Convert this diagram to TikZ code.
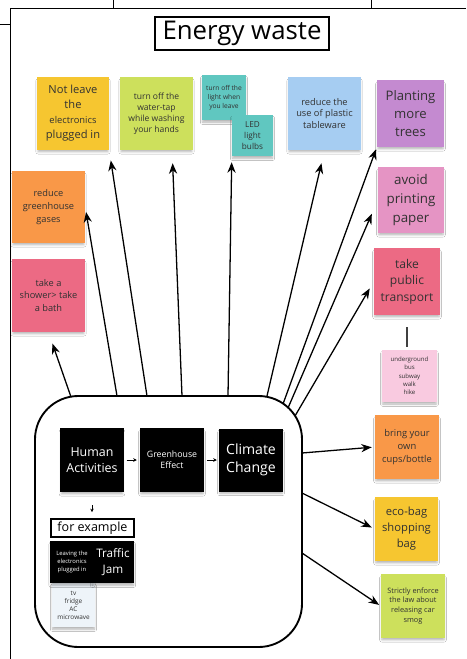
\documentclass[tikz,border=0pt]{standalone}
\usepackage{fontspec}
\setmainfont{Open Sans}
\usepackage{tikz}
\usepackage{xcolor}
\usetikzlibrary{arrows.meta,shadows.blur}
\definecolor{notetext}{RGB}{50, 50, 50}
\definecolor{noteyellow}{RGB}{246, 198, 48}
\definecolor{notelime}{RGB}{205, 224, 92}
\definecolor{noteteal}{RGB}{96, 199, 192}
\definecolor{noteblue}{RGB}{166, 205, 242}
\definecolor{notepurple}{RGB}{196, 138, 208}
\definecolor{noteorange}{RGB}{249, 152, 72}
\definecolor{notered}{RGB}{236, 106, 132}
\definecolor{notepink}{RGB}{229, 148, 196}
\definecolor{notelightpink}{RGB}{249, 202, 224}
\definecolor{notepale}{RGB}{238, 244, 249}
\newcommand{\notefont}[2]{\fontsize{#1}{#2}\selectfont}
\tikzstyle{arrow} = [
    line width=1.1pt,
    -{Stealth[length=9pt,width=7pt]},
    draw=black
]
\tikzstyle{link} = [
    line width=0.7pt,
    -{Stealth[length=3pt,width=3pt]},
    draw=black
]
\tikzstyle{sticky} = [
    rectangle,
    inner sep=1pt,
    align=center,
    text=notetext,
    blur shadow={shadow xshift=0pt, shadow yshift=-2.5pt, shadow scale=0.97,
        shadow blur radius=2pt, shadow opacity=30}
]
\tikzstyle{darknote} = [
    sticky,
    fill=black,
    text=white
]

\begin{document}
\begin{tikzpicture}[x=0.03cm, y=-0.03cm]
    \path[use as bounding box, fill=white] (0,0) rectangle (466,659);
    % page frame
    \draw[line width=0.8pt] (0,24) -- (10,24);
    \draw[line width=0.8pt] (10,659) -- (10,8) -- (466,8);
    \draw[line width=0.8pt] (113,0) -- (113,8);
    \draw[line width=0.8pt] (371,0) -- (371,8);

    \node[draw, line width=1.5pt, minimum width=5.22cm, minimum height=0.99cm,
        font=\notefont{22}{26}] (title) at (242,33.5) {Energy waste};

    % top row
    \node[sticky, fill=noteyellow, minimum width=2.16cm, minimum height=2.19cm,
        font=\notefont{9.5}{12.8}] (notleave) at (73,113.5)
        {Not leave\\the\\{\notefont{8}{12.8}electronics}\\plugged in};
    \node[sticky, fill=notelime, minimum size=2.19cm,
        font=\notefont{7.3}{9.4}] (watertap) at (156.5,113.5)
        {turn off the\\water-tap\\while washing\\your hands};
    \node[sticky, fill=noteteal, minimum width=1.32cm, minimum height=1.35cm,
        font=\notefont{5.7}{7.7}] (lightoff) at (224,97.5)
        {turn off the\\light when\\you leave};
    \node[sticky, fill=noteteal, minimum size=1.23cm,
        font=\notefont{7}{9.6}] (ledbulb) at (252.5,135.5)
        {LED\\light\\bulbs};
    \node[sticky, fill=noteblue, minimum size=2.19cm,
        font=\notefont{7.9}{10.2}] (plastic) at (324.5,113.5)
        {reduce the\\use of plastic\\tableware};
    \node[sticky, fill=notepurple, minimum size=2.01cm,
        font=\notefont{11.2}{15.4}] (trees) at (410.5,113.5)
        {Planting\\more\\trees};

    % left column
    \node[sticky, fill=noteorange, minimum width=2.19cm, minimum height=2.16cm,
        font=\notefont{7.9}{10.8}] (gases) at (48.5,207)
        {reduce\\greenhouse\\gases};
    \node[sticky, fill=notered, minimum size=2.19cm,
        font=\notefont{7.9}{10.8}] (shower) at (48.5,295.5)
        {take a\\shower> take\\a bath};

    % right column
    \node[sticky, fill=notepink, minimum size=1.98cm,
        font=\notefont{11.4}{16.2}] (printing) at (411,200)
        {avoid\\printing\\paper};
    \node[sticky, fill=notered, minimum width=1.98cm, minimum height=2.01cm,
        font=\notefont{10.3}{14.2}] (transport) at (407,281.5)
        {take\\public\\transport};
    \node[sticky, fill=notelightpink, minimum width=1.65cm, minimum height=1.56cm,
        font=\notefont{5.2}{7.1}] (underground) at (409.5,376)
        {underground\\bus\\subway\\walk\\hike};
    \node[sticky, fill=noteorange, minimum size=1.92cm,
        font=\notefont{8}{10.8}] (cups) at (407,447)
        {bring your\\own\\cups/bottle};
    \node[sticky, fill=noteyellow, minimum width=1.89cm, minimum height=1.92cm,
        font=\notefont{9.6}{13.7}] (ecobag) at (406.5,529)
        {eco-bag\\shopping\\bag};
    \node[sticky, fill=notelime, minimum size=1.92cm,
        font=\notefont{6.3}{8.5}] (smog) at (413,606)
        {Strictly enforce\\the law about\\releasing car\\smog};

    \draw[line width=1.2pt, draw=black!75, shorten <=0.36cm, shorten >=0.09cm]
        (transport.south) -- (transport.south |- underground.north);

    % the causes
    \node[draw, line width=1.6pt, rounded corners=1.3cm, minimum width=8.01cm,
        minimum height=7.53cm] (hub) at (168.5,521.5) {};
    \node[darknote, minimum width=1.89cm, minimum height=1.92cm,
        font=\notefont{10.6}{14.2}] (human) at (92,460) {Human\\Activities};
    \node[darknote, minimum size=1.92cm,
        font=\notefont{7.5}{9.1}] (greenhouse) at (172,460) {Greenhouse\\Effect};
    \node[darknote, minimum width=1.92cm, minimum height=1.89cm,
        font=\notefont{12}{15.6}] (climate) at (251,460) {Climate\\Change};
    \draw[link, shorten <=0.09cm, shorten >=0.09cm] (human) -- (greenhouse);
    \draw[link, shorten <=0.09cm, shorten >=0.06cm] (greenhouse) -- (climate);

    \node[draw, line width=1.4pt, minimum width=2.49cm, minimum height=0.54cm,
        inner sep=0pt, font=\notefont{10.7}{12}] (forexample) at (92.5,528) {for example};
    \draw[link, shorten <=0.39cm, shorten >=0.18cm] (human.south) -- (human.south |- forexample.north);
    \node[sticky, fill=notepale, minimum width=1.29cm, minimum height=1.32cm,
        font=\notefont{5.5}{6.8}] (appliances) at (73.5,605) {tv\\fridge\\AC\\microwave};
    \node[darknote, minimum width=1.29cm, minimum height=1.26cm,
        font=\notefont{5}{7.2}] (leaving) at (72,562) {Leaving the\\electronics\\plugged in};
    \node[darknote, minimum width=1.26cm, minimum height=1.26cm,
        font=\notefont{10}{13}] (traffic) at (113,562) {Traffic\\Jam};

    % where the arrows leave the box
    \coordinate (o1) at (71,397);
    \coordinate (o2) at (117,396);
    \coordinate (o3) at (147,396);
    \coordinate (o4) at (182,396);
    \coordinate (o5) at (228,396);
    \coordinate (o6) at (267,396);
    \coordinate (o7) at (283,404);
    \coordinate (o8) at (288,408);
    \coordinate (o9) at (295,416);
    \coordinate (o10) at (302,453);
    \coordinate (o11) at (302,493);
    \coordinate (o12) at (302,553);

    \draw[arrow, shorten >=0.36cm] (o1) -- (shower.south);
    \draw[arrow, shorten >=0.15cm] (o2) -- (gases.east);
    \draw[arrow, shorten >=0.31cm] (o3) -- (notleave.south east);
    \draw[arrow, shorten >=0.39cm] (o4) -- (watertap.-67);
    \draw[arrow, shorten >=0.18cm] (o5) -- (ledbulb.south west);
    \draw[arrow, shorten >=0.4cm] (o6) -- (plastic.south);
    \draw[arrow, shorten >=0.06cm] (o7) -- (trees.south west);
    \draw[arrow, shorten >=0.45cm] (o8) -- (printing.west);
    \draw[arrow, shorten >=0.24cm] (o9) -- (transport.west);
    \draw[arrow, shorten >=0.09cm] (o10) -- (cups.west);
    \draw[arrow, shorten >=0.1cm] (o11) -- (ecobag.west);
    \draw[arrow, shorten >=0.06cm] (o12) -- (smog.west);
\end{tikzpicture}
\end{document}
